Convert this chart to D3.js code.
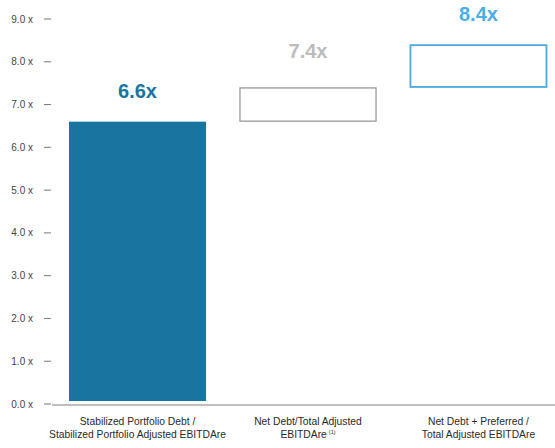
<!DOCTYPE html>
<html>
<head>
<meta charset="utf-8">
<script src="https://cdn.jsdelivr.net/npm/d3@7"></script>
<style>
  body { margin: 0; background: #fff; }
  text { font-family: Arial, "Liberation Sans", sans-serif; }
</style>
</head>
<body>
<div id="chart"></div>
<script>
const width = 555;
const height = 448;

// data
const categories = ["stab", "net", "pref"];
const labelLines = [
    ["Stabilized Portfolio Debt /", "Stabilized Portfolio Adjusted EBITDAre"],
    ["Net Debt/Total Adjusted", "EBITDAre"],
    ["Net Debt + Preferred /", "Total Adjusted EBITDAre"]
];
const startValues = [0, 6.6, 7.4];
const endValues = [6.6, 7.4, 8.4];
const valueLabels = ["6.6x", "7.4x", "8.4x"];
const yTicks = [0, 1, 2, 3, 4, 5, 6, 7, 8, 9];

const svg = d3.select("#chart")
    .append("svg")
    .attr("width", width)
    .attr("height", height);

const x = d3.scaleBand()
    .domain(categories)
    .range([69, 547])
    .paddingInner(0.196)
    .paddingOuter(0);

const y = d3.scaleLinear()
    .domain([0, 9])
    .range([404, 19]);

// y axis: labels + short dashes
const yAxis = svg.append("g");
yAxis.selectAll("text.tick")
    .data(yTicks)
    .enter()
    .append("text")
    .attr("class", "tick")
    .attr("x", 33)
    .attr("y", d => y(d))
    .attr("dy", "0.35em")
    .attr("text-anchor", "end")
    .attr("font-size", 10)
    .attr("fill", "#444")
    .text(d => d.toFixed(1) + " x");

yAxis.selectAll("line")
    .data(yTicks)
    .enter()
    .append("line")
    .attr("x1", 44)
    .attr("x2", 51)
    .attr("y1", d => y(d))
    .attr("y2", d => y(d))
    .attr("stroke", "#777")
    .attr("stroke-width", 1);

// baseline
svg.append("line")
    .attr("x1", 52)
    .attr("x2", width)
    .attr("y1", y(0) + 1)
    .attr("y2", y(0) + 1)
    .attr("stroke", "#aaa")
    .attr("stroke-width", 1.5);

const fills = ["#17759f", "#fff", "#fff"];
const strokes = ["none", "#999", "#4aa8e2"];
const labelColors = ["#17759f", "#bbbbbb", "#4aaee8"];
const labelGap = [24, 29, 24];

svg.selectAll("rect.bar")
    .data(categories)
    .enter()
    .append("rect")
    .attr("class", "bar")
    .attr("x", (d, i) => x(d) + (i ? 0.5 : 0))
    .attr("y", (d, i) => y(endValues[i]) + (i ? 0.5 : 0))
    .attr("width", (d, i) => x.bandwidth() - (i ? 1 : 0))
    .attr("height", (d, i) => y(startValues[i]) - y(endValues[i]) - (i ? 1 : 3))
    .attr("fill", (d, i) => fills[i])
    .attr("stroke", (d, i) => strokes[i])
    .attr("stroke-width", (d, i) => i === 2 ? 1.8 : 1.3);

// value labels
svg.selectAll("text.val")
    .data(categories)
    .enter()
    .append("text")
    .attr("class", "val")
    .attr("x", d => x(d) + x.bandwidth() / 2)
    .attr("y", (d, i) => y(endValues[i]) - labelGap[i])
    .attr("text-anchor", "middle")
    .attr("font-size", 20)
    .attr("font-weight", "bold")
    .attr("fill", (d, i) => labelColors[i])
    .text((d, i) => valueLabels[i]);

// category labels
const cat = svg.selectAll("text.cat")
    .data(categories)
    .enter()
    .append("text")
    .attr("class", "cat")
    .attr("x", d => x(d) + x.bandwidth() / 2)
    .attr("y", 425)
    .attr("text-anchor", "middle")
    .attr("font-size", 10.3)
    .attr("fill", "#2a2a2a");

cat.each(function(d, i) {
    const t = d3.select(this);
    labelLines[i].forEach((line, j) => {
        t.append("tspan")
            .attr("x", x(d) + x.bandwidth() / 2)
            .attr("dy", j === 0 ? 0 : 13)
            .text(line);
    });
    if (i === 1) {
        t.append("tspan")
            .attr("dx", 2)
            .attr("dy", -4)
            .attr("font-size", 5.5)
            .text("(1)");
    }
});
</script>
</body>
</html>
